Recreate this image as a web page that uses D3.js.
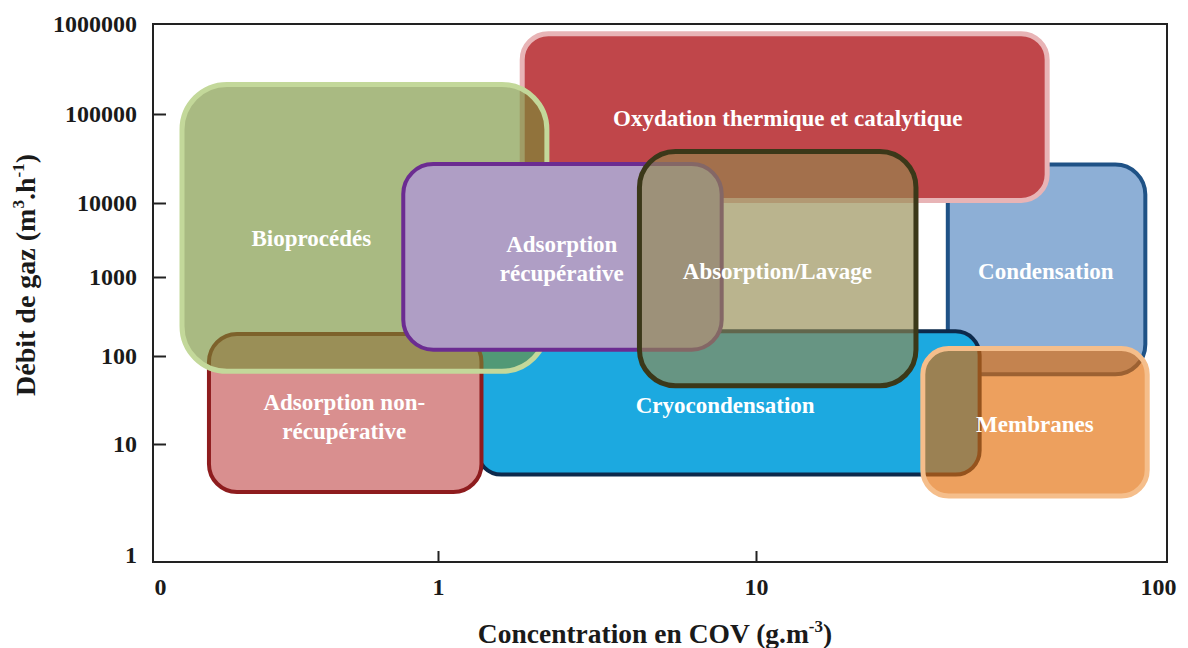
<!DOCTYPE html>
<html>
<head>
<meta charset="utf-8">
<script src="https://cdn.jsdelivr.net/npm/d3@7"></script>
<style>
  body { margin: 0; background: #fff; }
  text { font-family: "Liberation Serif", "Times New Roman", serif; font-weight: bold; }
</style>
</head>
<body>
<script>
var width = 1188, height = 648;

// techniques, in drawing order (bottom to top)
var techniques = ["Condensation", "Cryocondensation", "Oxydation thermique et catalytique",
        "Adsorption non-récupérative", "Bioprocédés", "Adsorption récupérative",
        "Absorption/Lavage", "Membranes"];
// concentration range (g.m-3)
var concMin = [30, 1.33, 1.84, 0.15, 0.12, 0.75, 4.3, 26];
var concMax = [93, 36, 53, 1.37, 2.2, 7.8, 25, 94];
// gas flow range (m3.h-1)
var debitMin = [62, 5.3, 10700, 3.7, 67, 120, 46, 3.4];
var debitMax = [27000, 205, 780000, 190, 213000, 27400, 38000, 124];
// label anchor (in data units) and lines
var labelConc = [52.6, 8.0, 12, 0.46, 0.35, 2.45, 11.3, 49.4];
var labelDebit = [1200, 28, 90000, 20.5, 3400, 1800, 1200, 16.9];
var labelLines = [["Condensation"], ["Cryocondensation"], ["Oxydation thermique et catalytique"],
        ["Adsorption non-", "récupérative"], ["Bioprocédés"], ["Adsorption", "récupérative"],
        ["Absorption/Lavage"], ["Membranes"]];

var xTicks = [0.1, 1, 10, 100];
var xTickLabels = ["0", "1", "10", "100"];
var yTicks = [1, 10, 100, 1000, 10000, 100000, 1000000];

var style = {
        "Condensation": { fill: "#8DAFD6", op: 1, stroke: "#1F5286", sw: 4, r: 30 },
        "Cryocondensation": { fill: "#1CA9E0", op: 1, stroke: "#0D2A4C", sw: 4, r: 24 },
        "Oxydation thermique et catalytique": { fill: "#C0464A", op: 1, stroke: "#E8B4B6", sw: 5, r: 26 },
        "Adsorption non-récupérative": { fill: "#D98F8F", op: 1, stroke: "#8E1C1E", sw: 4, r: 28 },
        "Bioprocédés": { fill: "rgb(115,143,52)", op: 0.615, stroke: "#C3D89A", sw: 5, r: 45 },
        "Adsorption récupérative": { fill: "#AF9EC5", op: 1, stroke: "#6B2C91", sw: 4, r: 30 },
        "Absorption/Lavage": { fill: "rgb(146,137,77)", op: 0.635, stroke: "#3B3819", sw: 5, r: 36 },
        "Membranes": { fill: "rgb(227,107,3)", op: 0.64, stroke: "#F5BE8B", sw: 5, r: 26 }
};

// hand drawn axes: uneven decades
var x = d3.scaleLog()
        .domain([0.1, 1, 10, 100])
        .range([160, 438, 756, 1158]);

var y = d3.scaleLog()
        .domain([1, 10, 100, 1000, 10000, 100000, 1000000])
        .range([555, 444, 356, 277, 203, 114, 24]);

var frame = { left: 153, right: 1167, top: 24, bottom: 562 };

var svg = d3.select("body").append("svg")
        .attr("width", width)
        .attr("height", height);

var data = techniques.map(function (t, i) {
        return { name: t, x0: concMin[i], x1: concMax[i], y0: debitMin[i], y1: debitMax[i],
                lx: labelConc[i], ly: labelDebit[i], lines: labelLines[i] };
});

// frame
svg.append("rect")
        .attr("x", frame.left)
        .attr("y", frame.top)
        .attr("width", frame.right - frame.left)
        .attr("height", frame.bottom - frame.top)
        .attr("fill", "none")
        .attr("stroke", "#222")
        .attr("stroke-width", 2);

// y axis
var yAxis = svg.append("g")
        .attr("transform", "translate(" + frame.left + ",0)")
        .call(d3.axisLeft(y).tickValues(yTicks).tickFormat(d3.format("d")).tickSize(-13).tickPadding(16));
yAxis.select(".domain").remove();
yAxis.selectAll(".tick line")
        .attr("stroke", "#222").attr("stroke-width", 2)
        .filter(function (d) { return d === 1 || d === 1000000; }).remove();
yAxis.selectAll(".tick text")
        .attr("x", -16)
        .style("font-size", "24px")
        .attr("fill", "#1a1a1a");

// x axis
var xAxis = svg.append("g")
        .attr("transform", "translate(0," + frame.bottom + ")")
        .call(d3.axisBottom(x).tickValues(xTicks).tickFormat(function (d, i) { return xTickLabels[i]; })
                .tickSize(-11).tickPadding(17));
xAxis.select(".domain").remove();
xAxis.selectAll(".tick line")
        .attr("stroke", "#222").attr("stroke-width", 2)
        .filter(function (d) { return d === 0.1 || d === 100; }).remove();
xAxis.selectAll(".tick text")
        .attr("y", 16)
        .style("font-size", "24px")
        .attr("fill", "#1a1a1a");

// boxes
svg.selectAll(".box")
        .data(data)
        .enter().append("rect")
        .attr("class", "box")
        .attr("x", function (d) { return x(d.x0); })
        .attr("y", function (d) { return y(d.y1); })
        .attr("width", function (d) { return x(d.x1) - x(d.x0); })
        .attr("height", function (d) { return y(d.y0) - y(d.y1); })
        .attr("rx", function (d) { return style[d.name].r; })
        .attr("ry", function (d) { return style[d.name].r; })
        .attr("fill", function (d) { return style[d.name].fill; })
        .attr("fill-opacity", function (d) { return style[d.name].op; })
        .attr("stroke", function (d) { return style[d.name].stroke; })
        .attr("stroke-width", function (d) { return style[d.name].sw; });

// labels on top
var lineH = 29;
svg.selectAll(".lbl")
        .data(data)
        .enter().append("text")
        .attr("class", "lbl")
        .attr("text-anchor", "middle")
        .attr("fill", "#fff")
        .style("font-size", "23px")
        .each(function (d) {
                var t = d3.select(this);
                var n = d.lines.length;
                d.lines.forEach(function (line, k) {
                        t.append("tspan")
                                .attr("x", x(d.lx))
                                .attr("y", y(d.ly) + (k - (n - 1) / 2) * lineH + 8)
                                .text(line);
                });
        });

// axis titles
var yt = svg.append("text")
        .attr("transform", "translate(35,275) rotate(-90)")
        .attr("text-anchor", "middle")
        .attr("fill", "#1a1a1a")
        .style("font-size", "28px");
yt.append("tspan").text("Débit de gaz (m");
yt.append("tspan").attr("dy", -11).style("font-size", "17px").text("3");
yt.append("tspan").attr("dy", 11).text(".h");
yt.append("tspan").attr("dy", -11).style("font-size", "17px").text("-1");
yt.append("tspan").attr("dy", 11).text(")");

var xt = svg.append("text")
        .attr("x", 655)
        .attr("y", 643)
        .attr("text-anchor", "middle")
        .attr("fill", "#1a1a1a")
        .style("font-size", "27.5px");
xt.append("tspan").text("Concentration en COV (g.m");
xt.append("tspan").attr("dy", -11).style("font-size", "17px").text("-3");
xt.append("tspan").attr("dy", 11).text(")");
</script>
</body>
</html>
